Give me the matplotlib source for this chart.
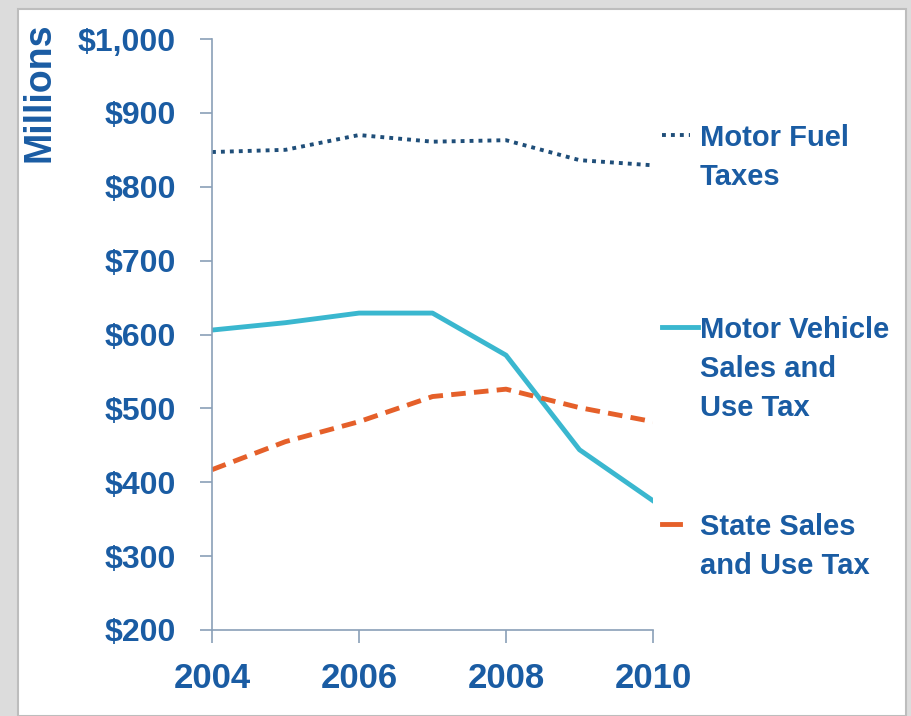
import matplotlib
matplotlib.use('Agg')
import matplotlib.pyplot as plt
from matplotlib.lines import Line2D
from matplotlib.patches import Rectangle

# DATA
years = [2004, 2005, 2006, 2007, 2008, 2009, 2010]
motor_fuel = [847, 850, 870, 861, 863, 836, 829]
motor_vehicle = [606, 616, 629, 629, 572, 444, 375]
state_sales = [417, 455, 482, 516, 526, 501, 482]
y_ticks = [200, 300, 400, 500, 600, 700, 800, 900, 1000]
y_tick_labels = ['$200', '$300', '$400', '$500', '$600', '$700', '$800', '$900', '$1,000']
x_ticks = [2004, 2006, 2008, 2010]

TEXT = '#1a5ca3'
FUEL = '#1f4e79'
VEH = '#3ab7cf'
SALES = '#e5602a'
SPINE = '#8aa0b8'
DOTS = (0, (1, 1.3))
DASH = (0, (3, 1.7))

plt.rcParams['font.family'] = ['Liberation Sans', 'DejaVu Sans']
plt.rcParams['font.weight'] = 'bold'

fig = plt.figure(figsize=(9.12, 7.16), dpi=100)
fig.patch.set_facecolor('#dcdcdc')

# white panel with grey frame
fig.add_artist(Rectangle((18 / 912, 0), 888 / 912, 707 / 716, transform=fig.transFigure,
                         facecolor='white', edgecolor='#bdbdbd', linewidth=1.5, zorder=0))

ax = fig.add_axes([212 / 912, 1 - 630 / 716, 441 / 912, 591 / 716])
ax.patch.set_alpha(0)

ax.plot(years, motor_fuel, color=FUEL, linestyle=DOTS, linewidth=2.8)
ax.plot(years, motor_vehicle, color=VEH, linewidth=3.5, solid_joinstyle='round')
ax.plot(years, state_sales, color=SALES, linestyle=DASH, linewidth=3.5)

ax.set_xlim(2004, 2010)
ax.set_ylim(200, 1000)
ax.set_yticks(y_ticks)
ax.set_yticklabels(y_tick_labels)
ax.set_xticks(x_ticks)

for s in ['top', 'right']:
    ax.spines[s].set_visible(False)
for s in ['left', 'bottom']:
    ax.spines[s].set_color(SPINE)
    ax.spines[s].set_linewidth(1.2)

ax.tick_params(axis='y', direction='out', length=9, width=1.2, color=SPINE,
               labelsize=23, labelcolor=TEXT, pad=17)
ax.tick_params(axis='x', direction='out', length=9, width=1.2, color=SPINE,
               labelsize=25, labelcolor=TEXT, pad=14)
for lbl in ax.get_xticklabels() + ax.get_yticklabels():
    lbl.set_fontweight('bold')

fig.text(40 / 912, 1 - 92 / 716, 'Millions', rotation=90, ha='center', va='center',
         fontsize=27, fontweight='bold', color=TEXT)

# legend labels and samples
legend_items = [
    (['Motor Fuel', 'Taxes'], 138, FUEL, DOTS, 2.8, 690),
    (['Motor Vehicle', 'Sales and', 'Use Tax'], 330, VEH, '-', 3.5, 698),
    (['State Sales', 'and Use Tax'], 527, SALES, '-', 3.5, 680),
]
for lines, ytop, col, ls, lw, xend in legend_items:
    for i, t in enumerate(lines):
        fig.text(700 / 912, 1 - (ytop + i * 39) / 716, t, ha='left', va='center',
                 fontsize=21, fontweight='bold', color=TEXT)
    yl = 1 - (ytop - 3) / 716
    fig.add_artist(Line2D([662 / 912, xend / 912], [yl, yl], transform=fig.transFigure,
                          color=col, linestyle=ls, linewidth=lw))

fig.savefig('out.png', dpi=100, facecolor=fig.get_facecolor())
